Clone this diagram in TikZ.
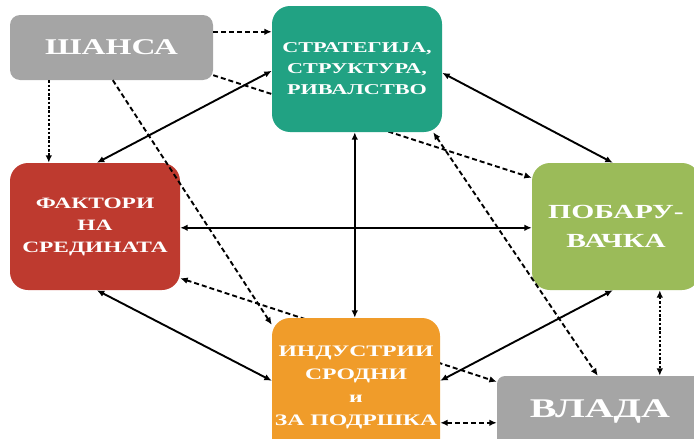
\documentclass[tikz,border=0pt]{standalone}
\usepackage{fontspec}
\setmainfont{Liberation Serif}[FakeStretch=1.48]
\usetikzlibrary{arrows.meta, backgrounds}

\definecolor{siva}{HTML}{A5A5A5}
\definecolor{tirkizna}{HTML}{21A283}
\definecolor{crvena}{HTML}{BE3A2F}
\definecolor{zelena}{HTML}{9BBB59}
\definecolor{portokalova}{HTML}{F09C2A}

\begin{document}
\begin{tikzpicture}[
        x=1pt, y=-1pt, % координати во пиксели, y оди надолу
        box/.style={rounded corners=18pt, align=center, text=white, inner sep=0pt}, % Стил на полињата
        veza/.style={line width=1.9pt, {Latex[length=7.5pt,width=6.5pt]}-{Latex[length=7.5pt,width=6.5pt]}},
        crta/.style={line width=1.9pt, dash pattern=on 5pt off 3pt},
        tocki/.style={line width=2.4pt, dash pattern=on 2.5pt off 1.8pt},
        vrv/.style={-{Latex[length=7.5pt,width=6.5pt]}},
        dvavrva/.style={{Latex[length=7.5pt,width=6.5pt]}-{Latex[length=7.5pt,width=6.5pt]}},
    ]
    \clip (0,0) rectangle (694,439);

    \node[box, fill=siva, rounded corners=10pt, minimum width=203pt, minimum height=65pt,
        font=\bfseries\fontsize{22.5}{27}\selectfont] (sansa) at (111.5,47.5) {ШАНСА};
    \node[box, fill=tirkizna, minimum width=170pt, minimum height=126pt,
        font=\bfseries\fontsize{15}{21}\selectfont] (strategija) at (357,69) {СТРАТЕГИЈА,\\СТРУКТУРА,\\РИВАЛСТВО};
    \node[box, fill=crvena, minimum width=170pt, minimum height=127pt,
        font=\bfseries\fontsize{15.8}{22}\selectfont] (faktori) at (95,226.5) {ФАКТОРИ\\НА\\СРЕДИНАТА};
    \node[box, fill=zelena, minimum width=168pt, minimum height=127pt,
        font=\bfseries\fontsize{20}{29}\selectfont] (pobaruvacka) at (616,226.5) {ПОБАРУ-\\ВАЧКА};
    \node[box, fill=portokalova, minimum width=168pt, minimum height=139pt,
        font=\bfseries\fontsize{16}{23}\selectfont] (industrii) at (356,387.5) {ИНДУСТРИИ\\СРОДНИ\\и\\ЗА ПОДРШКА};
    \node[box, fill=siva, rounded corners=8pt, minimum width=206pt, minimum height=70pt,
        font=\bfseries\fontsize{27}{32}\selectfont] (vlada) at (600,411) {ВЛАДА};

    % линии што минуваат зад полињата
    \begin{scope}[on background layer]
        \draw[crta, vrv] ([yshift=5pt]sansa.south east) -- ([yshift=-15pt]pobaruvacka.north west);
        \draw[crta, dvavrva] ([yshift=12pt]faktori.south east) -- ([yshift=-6pt]vlada.north west);
    \end{scope}

    % испрекинати врски
    \draw[crta, vrv] ([yshift=-17pt]sansa.north east) -- ([yshift=-26pt]strategija.north west);
    \draw[tocki, vrv] ([xshift=39pt]sansa.south west) -- ([xshift=39pt]faktori.north west);
    \draw[crta, vrv] ([xshift=103pt]sansa.south west) -- ([yshift=-7pt]industrii.north west);
    \draw[crta, dvavrva] ([xshift=-9pt]strategija.south east) -- ([xshift=101pt]vlada.north west);
    \draw[crta, dvavrva] ([yshift=-105pt]industrii.north east) -- ([yshift=-47pt]vlada.north west);
    \draw[tocki, dvavrva] ([xshift=128pt]pobaruvacka.south west) -- ([xshift=163pt]vlada.north west);

    % полни врски
    \draw[veza] ([yshift=-65pt]strategija.north west) -- ([xshift=87pt]faktori.north west);
    \draw[veza] ([yshift=-67pt]strategija.north east) -- ([xshift=81pt]pobaruvacka.north west);
    \draw[veza] ([xshift=83pt]strategija.south west) -- ([xshift=83pt]industrii.north west);
    \draw[veza] ([yshift=-65pt]faktori.north east) -- ([yshift=-65pt]pobaruvacka.north west);
    \draw[veza] ([xshift=87pt]faktori.south west) -- ([yshift=-63pt]industrii.north west);
    \draw[veza] ([yshift=-63pt]industrii.north east) -- ([xshift=81pt]pobaruvacka.south west);
\end{tikzpicture}
\end{document}
